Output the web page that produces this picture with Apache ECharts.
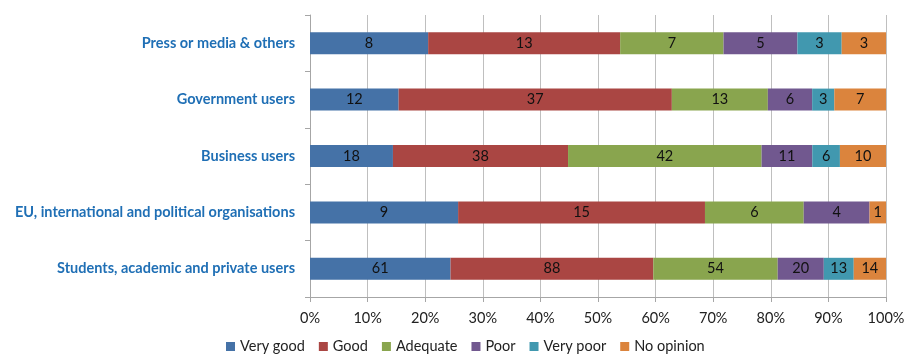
<!DOCTYPE html>
<html><head><meta charset="utf-8">
<script src="https://cdn.jsdelivr.net/npm/echarts@6/dist/echarts.min.js"></script>
<style>html,body{margin:0;padding:0;background:#fff}#c{width:905px;height:358px}</style>
</head><body><div id="c"></div>
<script>
const categories = ["Students, academic and private users", "EU, international and political organisations", "Business users", "Government users", "Press or media & others"];
const seriesNames = ["Very good", "Good", "Adequate", "Poor", "Very poor", "No opinion"];
const veryGood = [61, 9, 18, 12, 8];
const good = [88, 15, 38, 37, 13];
const adequate = [54, 6, 42, 13, 7];
const poor = [20, 4, 11, 6, 5];
const veryPoor = [13, 0, 6, 3, 3];
const noOpinion = [14, 1, 10, 7, 3];
const tickLabels = ["0%","10%","20%","30%","40%","50%","60%","70%","80%","90%","100%"];
const colors = ["#4572A7", "#AA4643", "#89A54E", "#71588F", "#4198AF", "#DB843D"];

const all = [veryGood, good, adequate, poor, veryPoor, noOpinion];
const totals = categories.map((_, i) => all.reduce((s, a) => s + a[i], 0));
const FONT = "Lato, 'Open Sans', sans-serif";

const chart = echarts.init(document.getElementById('c'));
chart.setOption({
  animation: false,
  color: colors,
  textStyle: {fontFamily: FONT},
  grid: {left: 310, right: 19, top: 15, bottom: 61, containLabel: false, outerBoundsMode: 'none'},
  legend: {
    bottom: -1, left: 221, itemWidth: 9, itemHeight: 9, itemGap: 14,
    icon: 'rect', textStyle: {fontSize: 14.5, color: '#222', fontFamily: FONT},
    data: seriesNames
  },
  xAxis: {
    type: 'value', min: 0, max: 100, interval: 10,
    axisLabel: {formatter: v => tickLabels[v/10], fontSize: 14.5, color: '#222', margin: 14, fontFamily: FONT},
    axisLine: {show: true, lineStyle: {color: '#a6a6a6'}},
    axisTick: {show: true, length: 5, lineStyle: {color: '#a6a6a6'}},
    splitLine: {show: true, lineStyle: {color: '#bfbfbf'}}
  },
  yAxis: {
    type: 'category', data: categories,
    axisLabel: {fontSize: 14.5, fontWeight: 'bold', color: '#1F6FB5', margin: 15, fontFamily: FONT},
    axisLine: {show: true, lineStyle: {color: '#a6a6a6'}},
    axisTick: {show: true, length: 5, lineStyle: {color: '#a6a6a6'}}
  },
  series: seriesNames.map((name, k) => ({
    name, type: 'bar', stack: 'total', barWidth: 22,
    data: all[k].map((v, i) => ({value: v / totals[i] * 100, raw: v})),
    label: {
      show: true, position: 'inside', color: '#111', fontSize: 14.5, fontFamily: FONT,
      formatter: p => p.data.raw ? String(p.data.raw) : ''
    }
  }))
});
</script></body></html>
